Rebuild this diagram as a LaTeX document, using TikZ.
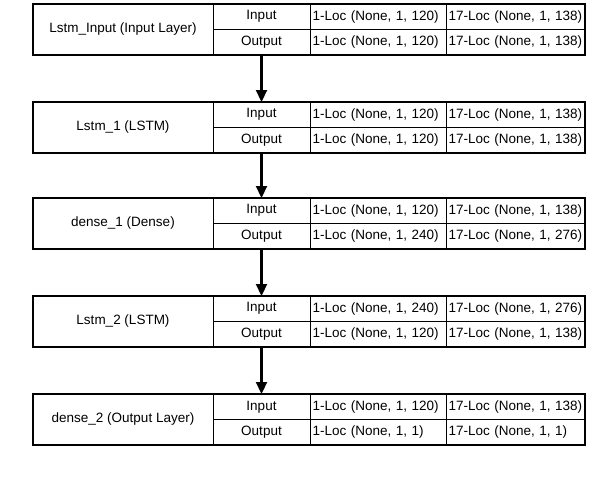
\documentclass[tikz,border=0pt]{standalone}
\usepackage{fontspec}
\setmainfont{Liberation Sans}
\usetikzlibrary{arrows.meta}
\tikzset{
  cellbox/.style={draw, line width=0.9pt, inner sep=0pt, outer sep=0pt, anchor=north west, minimum height=25.5pt},
  namebox/.style={draw, line width=0.9pt, inner sep=0pt, outer sep=0pt, anchor=north west, minimum height=51pt, minimum width=180pt},
  valbox/.style={cellbox, align=left, text width=#1, inner xsep=2.5pt},
  flow/.style={-{Triangle[width=11pt,length=12pt]}, line width=2.2pt},
  outline/.style={line width=1.5pt}
}
\newcommand{\lstmlayer}[8]{%
  \pgfmathsetmacro{\wB}{#3-213}%
  \pgfmathsetmacro{\wC}{446-#3-5}%
  \pgfmathsetmacro{\wD}{585-446-5}%
  \node[namebox] (#1-name) at (33,#2) {#4};
  \node[cellbox, minimum width=\wB pt] (#1-in) at (213,#2) {Input};
  \node[cellbox, minimum width=\wB pt] (#1-out) at (213,#2+25.5) {Output};
  \node[valbox=\wC pt] (#1-ia) at (#3,#2) {#5};
  \node[valbox=\wD pt] (#1-ib) at (446,#2) {#6};
  \node[valbox=\wC pt] (#1-oa) at (#3,#2+25.5) {#7};
  \node[valbox=\wD pt] (#1-ob) at (446,#2+25.5) {#8};
  \draw[outline] (#1-name.north west) rectangle (#1-ob.south east);
}
\begin{document}
\begin{tikzpicture}[x=1pt, y=-1pt, font=\fontsize{13.5}{16}\selectfont]
\useasboundingbox (0,0) rectangle (594,482);
\lstmlayer{b1}{4}{310}{Lstm\_Input (Input Layer)}{1-Loc (None, 1, 120)}{17-Loc (None, 1, 138)}{1-Loc (None, 1, 120)}{17-Loc (None, 1, 138)}
\lstmlayer{b2}{102}{310}{Lstm\_1 (LSTM)}{1-Loc (None, 1, 120)}{17-Loc (None, 1, 138)}{1-Loc (None, 1, 120)}{17-Loc (None, 1, 138)}
\lstmlayer{b3}{198}{310}{dense\_1 (Dense)}{1-Loc (None, 1, 120)}{17-Loc (None, 1, 138)}{1-Loc (None, 1, 240)}{17-Loc (None, 1, 276)}
\lstmlayer{b4}{296}{310}{Lstm\_2 (LSTM)}{1-Loc (None, 1, 240)}{17-Loc (None, 1, 276)}{1-Loc (None, 1, 120)}{17-Loc (None, 1, 138)}
\lstmlayer{b5}{394}{310}{dense\_2 (Output Layer)}{1-Loc (None, 1, 120)}{17-Loc (None, 1, 138)}{1-Loc (None, 1, 1)}{17-Loc (None, 1, 1)}
\draw[flow] (b1-out.south) -- (b2-in.north);
\draw[flow] (b2-out.south) -- (b3-in.north);
\draw[flow] (b3-out.south) -- (b4-in.north);
\draw[flow] (b4-out.south) -- (b5-in.north);
\end{tikzpicture}
\end{document}
